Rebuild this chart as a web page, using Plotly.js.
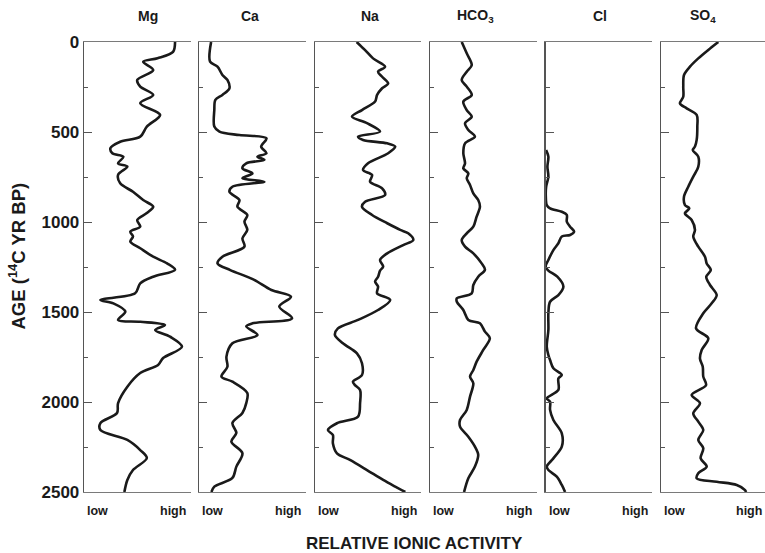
<!DOCTYPE html>
<html>
<head>
<meta charset="utf-8">
<script src="https://cdn.plot.ly/plotly-3.0.1.min.js"></script>
<style>html,body{margin:0;padding:0;background:#fff;}#chart{width:765px;height:553px;}</style>
</head>
<body>
<div id="chart"></div>
<script>
// Panel names (relative ionic activity, 0 = low, 100 = high)
const panels = ["Mg", "Ca", "Na", "HCO<sub>3</sub>", "Cl", "SO<sub>4</sub>"];

const ageMg = [0,55,90,110,156,211,248,294,340,405,470,526,554,590,618,638,674,692,738,785,832,878,915,950,989,1026,1054,1080,1109,1146,1193,1230,1265,1304,1341,1396,1433,1452,1498,1544,1554,1572,1600,1637,1693,1756,1794,1839,1915,2006,2061,2117,2156,2211,2267,2311,2378,2433,2500];
const mg = [85.5,83.6,69,55.6,65,50,52.8,65,52.8,71.5,59,52.8,34,24.8,26.6,37,32,40.7,32,34,46,55.6,65,59,50,52.8,43.5,46,43.5,52.8,65,78,85.5,65,52.8,48,15.4,27.6,38.8,32,52.8,76,66.8,80.8,92,74.3,69.6,52.8,40.7,32,31,15.4,15.4,40.7,52.8,59,46,40.7,37.9];

const ageCa = [0,109,137,183,211,257,294,322,378,470,498,517,535,581,618,637,655,674,702,730,757,776,804,832,878,915,961,998,1044,1091,1137,1193,1230,1267,1320,1378,1415,1470,1535,1563,1580,1628,1674,1748,1804,1859,1887,1950,2006,2061,2117,2172,2220,2285,2359,2422,2470,2500];
const ca = [11,10,17,21.6,26.3,28.2,21.6,15,14,14,18.8,37.6,63,58,63,54.5,61,44,40.4,49.8,40.4,61,31,28.2,37.6,35.7,45,42.3,45,40.4,42.3,21.6,17,29,51,67.6,86,75,87,49.8,44,54.5,31,25.4,26.3,20.7,31,45,44,40.4,31,34.7,30,40.4,34.7,31,14,11.3];

const ageNa = [0,44,91,137,165,193,230,257,294,331,378,415,451,498,526,544,563,581,618,674,711,739,776,813,850,887,915,961,1007,1044,1063,1100,1128,1174,1211,1248,1270,1304,1331,1359,1396,1433,1489,1544,1591,1628,1674,1730,1785,1850,1887,1906,1933,2007,2081,2118,2156,2183,2230,2285,2322,2378,2433,2470,2500];
const na = [39.3,47,54.7,66,59.4,63.2,68.9,63.2,58.5,56.6,44.3,34.9,49,61.3,40.6,45.3,68,75.5,68.9,50,45.3,53.8,51.9,63.2,66,47.2,44.3,53.8,68,80.2,87.7,92.5,83,68,61.3,64.2,61.3,59.4,56.6,59.4,58.5,70.8,59.4,40.6,21.7,18.9,26.4,39.6,44.3,44.3,35.8,37.7,42.5,42.5,40.6,20.8,12.3,17,17,20.8,33,49,64.2,75.5,85];

const ageHCO3 = [0,63,128,165,211,248,294,331,378,415,452,489,526,563,618,674,702,730,757,794,841,878,915,970,1026,1063,1100,1137,1174,1230,1265,1304,1350,1396,1424,1443,1489,1544,1563,1609,1646,1711,1776,1822,1859,1896,1970,2044,2100,2137,2193,2248,2294,2359,2424,2500];
const hco3 = [29.6,34.3,39,34.3,29.6,34.3,39,31.1,34.3,39,32.7,35.8,42,32.7,31.1,32.7,31.1,35.8,34.3,37.4,40.5,45.1,46.7,43.6,40.5,34.3,29.6,32.7,40.5,48.3,51.4,45.1,40.5,39,25,25,31.1,35.8,46.7,51.4,56,49.8,43.6,40.5,37.4,40.5,37.4,34.3,28,28,35.8,42,45.1,42,35.8,31.8];

const ageCl = [600,637,693,748,804,859,906,924,943,961,998,1026,1054,1072,1081,1118,1156,1211,1248,1270,1304,1359,1406,1443,1507,1600,1693,1739,1767,1813,1850,1869,1933,1980,1998,2044,2100,2174,2248,2313,2359,2378,2415,2461,2500];
const cl = [0.5,2.6,1.7,2.6,0.5,0.2,1.1,4.2,15.2,19.9,19.9,23,26.8,23,15.2,12,7.3,2.6,0,2.6,11,16.7,12,4.2,2.6,2.6,1.1,2.6,4.2,7.3,15.2,12,12,1.1,4.2,4.2,7.3,15.2,15.2,7.3,1.1,2.6,10.5,15.2,18.3];

const ageSO4 = [0,44,91,137,183,248,304,341,369,405,470,544,581,600,637,693,748,804,859,906,924,952,989,1044,1081,1137,1193,1230,1267,1304,1350,1406,1452,1507,1591,1646,1711,1759,1804,1859,1906,1961,2007,2063,2109,2156,2211,2257,2313,2359,2396,2424,2443,2461,2489,2500];
const so4 = [53.8,44.4,35,27.2,21.6,20.9,20.9,17.8,24.1,33.5,34.1,33.5,31.9,29.8,35,35,30.3,25.6,21.6,22.5,26.6,22.5,28.8,31.9,30.3,35,41.3,42.9,46.8,42.5,46,52.3,47.6,39.7,32.9,44.4,38.2,36.6,39.2,39.7,42.3,28.8,36.6,30.3,35,39.7,35,39.7,37.2,42.9,35,33.5,52.3,71.1,78.9,79.8];

const ages = [ageMg, ageCa, ageNa, ageHCO3, ageCl, ageSO4];
const vals = [mg, ca, na, hco3, cl, so4];
const yTickLabels = ["0", "500", "1000", "1500", "2000", "2500"];
const lowLabel = "low", highLabel = "high";
const xTitle = "RELATIVE IONIC ACTIVITY";
const yTitle = "AGE (<sup>14</sup>C YR BP)";

// ---- layout geometry (pixels) ----
const W = 765, H = 553;
const panelLeft0 = 84, panelStep = 115.4, panelW = 106.5;
const plotTop = 42, plotBottom = 492;
const titleX = [147.5, 249.5, 370, 475, 600, 703];
const FONT = "Liberation Sans, Arial, Helvetica, sans-serif";

const data = [];
const layout = {
  width: W, height: H,
  margin: {l: 0, r: 0, t: 0, b: 0},
  paper_bgcolor: "#fff", plot_bgcolor: "rgba(0,0,0,0)",
  showlegend: false,
  font: {family: FONT, color: "#1a1a1a"},
  annotations: []
};
const yDom = [1 - plotBottom / H, 1 - plotTop / H];

for (let i = 0; i < 6; i++) {
  const sfx = i === 0 ? "" : String(i + 1);
  const left = panelLeft0 + panelStep * i;
  let right = left + panelW;
  let xmax = 100;
  if (right > W) { xmax = 100 * (W - left) / panelW; right = W; }
  data.push({
    type: "scatter", mode: "lines",
    x: vals[i], y: ages[i],
    xaxis: "x" + sfx, yaxis: "y" + sfx,
    line: {color: "#1a1a1a", width: 2.6, shape: "spline", smoothing: 0.9},
    hoverinfo: "skip"
  });
  layout["xaxis" + sfx] = {
    domain: [left / W, right / W], range: [0, xmax], anchor: "y" + sfx,
    showline: true, mirror: true, linecolor: "#7a7a7a", linewidth: 1,
    showgrid: false, zeroline: false, showticklabels: false, ticks: "",
    fixedrange: true
  };
  layout["yaxis" + sfx] = {
    domain: yDom, range: [2500, 0], anchor: "x" + sfx,
    showline: true, mirror: false, linecolor: "#555", linewidth: 1.3,
    showgrid: false, zeroline: false,
    tickmode: "array", tickvals: yTickLabels.map(Number), ticktext: yTickLabels,
    ticks: "inside", ticklen: 8, tickwidth: 1, tickcolor: "#555",
    minor: {ticks: "inside", ticklen: 4, tickwidth: 1, tickcolor: "#555", dtick: 250, tick0: 0, showgrid: false},
    showticklabels: i === 0,
    ticklabelstandoff: 0,
    tickfont: {family: FONT, size: 17, weight: "bold", color: "#1a1a1a"},
    fixedrange: true
  };
  layout.annotations.push({
    xref: "paper", yref: "paper", x: titleX[i] / W, y: 1 - 16 / H,
    xanchor: "center", yanchor: "middle", showarrow: false,
    text: panels[i], font: {family: FONT, size: 14, weight: "bold", color: "#1a1a1a"}
  });
  layout.annotations.push({
    xref: "paper", yref: "paper", x: (left + 1) / W, y: 1 - 511 / H,
    xanchor: "left", yanchor: "middle", showarrow: false,
    text: lowLabel, font: {family: FONT, size: 12.5, weight: "bold", color: "#1a1a1a"}
  });
  layout.annotations.push({
    xref: "paper", yref: "paper", x: Math.min(left + panelW - 2.5, W - 1.5) / W, y: 1 - 511 / H,
    xanchor: "right", yanchor: "middle", showarrow: false,
    text: highLabel, font: {family: FONT, size: 12.5, weight: "bold", color: "#1a1a1a"}
  });
}

layout.annotations.push({
  xref: "paper", yref: "paper", x: 414.5 / W, y: 1 - 543 / H,
  xanchor: "center", yanchor: "middle", showarrow: false,
  text: xTitle, font: {family: FONT, size: 17, weight: "bold", color: "#1a1a1a"}
});
layout.annotations.push({
  xref: "paper", yref: "paper", x: 17.5 / W, y: 1 - 256 / H,
  xanchor: "center", yanchor: "middle", showarrow: false, textangle: -90,
  text: yTitle, font: {family: FONT, size: 18.5, weight: "bold", color: "#1a1a1a"}
});

Plotly.newPlot("chart", data, layout, {staticPlot: true, displayModeBar: false});
</script>
</body>
</html>
